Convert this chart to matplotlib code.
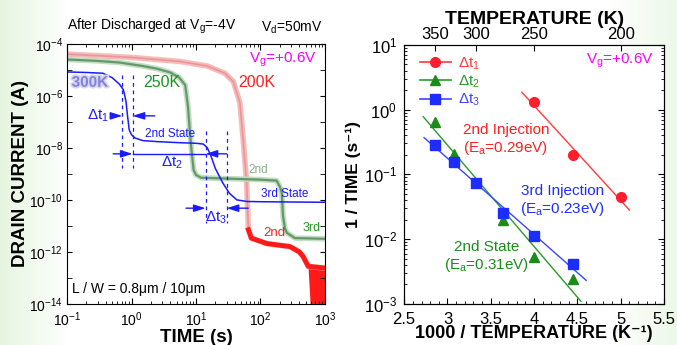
import numpy as np
import matplotlib
matplotlib.use("Agg")
import matplotlib.pyplot as plt
from matplotlib.ticker import FixedLocator, LogLocator, MultipleLocator, NullFormatter
import matplotlib.patheffects as pe

plt.rcParams['font.family'] = ['Liberation Sans', 'DejaVu Sans']
plt.rcParams['mathtext.fontset'] = 'custom'
plt.rcParams['mathtext.rm'] = 'Liberation Sans'
plt.rcParams['mathtext.it'] = 'Liberation Sans:italic'
plt.rcParams['mathtext.bf'] = 'Liberation Sans:bold'
plt.rcParams['mathtext.default'] = 'regular'

# drain current transients after discharge (time in s, current in A)
t_300 = [0.1, 0.2, 0.36, 0.5, 0.65, 0.75, 0.82, 0.87, 0.92, 1.0, 1.13, 1.5, 2.5, 5, 10,
         13, 15, 17, 20, 26, 33, 43, 62, 100, 1000]
i_300 = [8.3e-6, 7.9e-6, 7.4e-6, 5.0e-6, 2.8e-6, 1.7e-6, 6.3e-7, 1.6e-7, 5.0e-8, 3.2e-8,
         2.4e-8, 1.9e-8, 1.74e-8, 1.6e-8, 1.5e-8, 1.4e-8, 1.0e-8, 5.0e-9, 1.6e-9, 4.5e-10,
         1.8e-10, 1.0e-10, 8.7e-11, 8.5e-11, 8.1e-11]

t_250 = [0.1, 0.3, 0.66, 1.5, 2.5, 4, 5.5, 6.8, 7.5, 8.0, 8.5, 9.2, 10, 12, 30, 100, 178,
         200, 214, 224, 240, 257, 343, 1000]
i_250 = [2.5e-5, 2.2e-5, 1.9e-5, 1.4e-5, 1.1e-5, 7.9e-6, 5.0e-6, 2.6e-6, 4.0e-7, 5.0e-8,
         8.3e-9, 1.4e-9, 9.1e-10, 7.1e-10, 6.6e-10, 6.0e-10, 5.5e-10, 3.2e-10, 1.9e-10,
         2.3e-11, 7.9e-12, 5.4e-12, 3.4e-12, 3.2e-12]

t_200 = [0.1, 1, 5.6, 15, 28, 38, 48, 54, 61, 65, 72, 125, 287, 400, 460, 550, 1000]
i_200 = [4.0e-5, 3.0e-5, 2.1e-5, 1.4e-5, 7.4e-6, 3.5e-6, 5.4e-7, 2.0e-8, 4.5e-10, 7.1e-12,
         3.4e-12, 2.1e-12, 1.6e-12, 1.0e-12, 6.6e-13, 2.8e-13, 2.4e-13]
# noisy floor of the 200K trace
t_200_noise = [550, 620, 1000]
i_200_noise_hi = [2.8e-13, 2.6e-13, 2.4e-13]
i_200_noise_lo = [2.0e-13, 1e-15, 1e-15]

# marker times for the three decay intervals
dt1_bounds = [0.72, 1.04]
dt2_bounds = [1.04, 14.1]
dt3_bounds = [14.1, 29.9]

# inverse decay time versus temperature
T_dt1 = [250, 225, 200]
rate_dt1 = [1.32, 0.20, 0.044]
T_dt2 = [350, 325, 275, 250, 225]
rate_dt2 = [0.65, 0.207, 0.0198, 0.0054, 0.0024]
T_dt3 = [350, 325, 300, 275, 250, 225]
rate_dt3 = [0.28, 0.154, 0.073, 0.025, 0.011, 0.0041]
T_top_ticks = [350, 300, 250, 200]

fig = plt.figure(figsize=(6.77, 3.45), dpi=100)

# pale green border tint
bg = fig.add_axes([0, 0, 1, 1], zorder=-10)
xs = np.linspace(0, 677, 677)
w = np.clip(1 - xs / 70, 0, 1) * 0.11 + np.clip((xs - 610) / 67, 0, 1) * 0.08
grad = np.ones((1, xs.size, 3))
grad[0, :, 0] -= w * 0.9
grad[0, :, 1] -= w * 0.35
grad[0, :, 2] -= w * 1.1
bg.imshow(np.clip(grad, 0, 1), aspect='auto', extent=[0, 1, 0, 1])
bg.axis('off')

# ---- left: transients ----
ax = fig.add_axes([0.099, 0.119, 0.381, 0.754])
ax.set_xscale('log')
ax.set_yscale('log')
ax.set_xlim(0.1, 1000)
ax.set_ylim(1e-14, 1e-4)

ax.plot(t_200, i_200, color='#f6b4b4', lw=4.0, alpha=0.9, solid_capstyle='butt')
ax.plot(t_200, i_200, color='#ea8c8c', lw=1.2, alpha=0.8)
t200 = np.array(t_200)
i200 = np.array(i_200)
late = t200 >= 65
ax.plot(t200[late], i200[late], color='#ff1a1a', lw=3.5)
ax.fill_between(t_200_noise, i_200_noise_lo, i_200_noise_hi, color='#ff1a1a', lw=0)

ax.plot(t_250, i_250, color='#bcdcbc', lw=4.0, alpha=0.9)
ax.plot(t_250, i_250, color='#66976c', lw=1.6)

ax.plot(t_300, i_300, color='#1a1aff', lw=1.1)

dash = dict(color='#1a1aff', lw=0.9, ls=(0, (3, 3)))
ax.plot([dt1_bounds[0]] * 2, [6.4e-6, 1.7e-9], **dash)
ax.plot([dt1_bounds[1]] * 2, [6.4e-6, 1.7e-9], **dash)
ax.plot([dt3_bounds[0]] * 2, [4.3e-8, 1.25e-11], **dash)
ax.plot([dt3_bounds[1]] * 2, [4.3e-8, 1.25e-11], **dash)

arr = dict(arrowstyle='-|>,head_length=0.7,head_width=0.22', color='#1a1aff', lw=1.0,
           shrinkA=0, shrinkB=0)
y1, y2, y3 = 1.7e-7, 5.9e-9, 4.8e-11
ax.annotate('', xy=(dt1_bounds[0], y1), xytext=(0.49, y1), arrowprops=arr)
ax.annotate('', xy=(dt1_bounds[1], y1), xytext=(2.3, y1), arrowprops=arr)
ax.annotate('', xy=(dt2_bounds[0], y2), xytext=(0.52, y2), arrowprops=arr)
ax.annotate('', xy=(dt2_bounds[1], y2), xytext=(29.9, y2), arrowprops=arr)
ax.plot(dt2_bounds, [y2, y2], color='#1a1aff', lw=1.0)
ax.annotate('', xy=(dt3_bounds[0], y3), xytext=(7.0, y3), arrowprops=arr)
ax.annotate('', xy=(dt3_bounds[1], y3), xytext=(64.6, y3), arrowprops=arr)

blue = '#1a1aff'
ax.text(0.30, 1.7e-7, r'$\Delta$t$_1$', color=blue, fontsize=11, ha='center', va='center')
ax.text(4.2, 2.6e-9, r'$\Delta$t$_2$', color=blue, fontsize=11, ha='center', va='center')
ax.text(20.5, 2.0e-11, r'$\Delta$t$_3$', color=blue, fontsize=11, ha='center', va='center')
ax.text(3.95, 3.5e-8, '2nd State', color=blue, fontsize=8.5, ha='center', va='center')
ax.text(240, 1.66e-10, '3rd State', color=blue, fontsize=8.5, ha='center', va='center')
ax.text(0.118, 3.2e-6, '300K', color='#8282d6', fontsize=11, fontweight='bold',
        ha='left', va='center',
        path_effects=[pe.withStroke(linewidth=2.5, foreground='#d4d4f4')])
ax.text(2.94, 3.2e-6, '250K', color='#18961e', fontsize=11.5, ha='center', va='center')
ax.text(87, 3.2e-6, '200K', color='#ff2020', fontsize=11.5, ha='center', va='center')
ax.text(92, 1.4e-9, '2nd', color='#86b086', fontsize=8.5, ha='center', va='center')
ax.text(617, 8.1e-12, '3rd', color='#249624', fontsize=9, ha='center', va='center')
ax.text(166, 5.2e-12, '2nd', color='#ff2020', fontsize=9.5, ha='center', va='center')
ax.text(0.968, 0.938, 'V$_g$=+0.6V', color='#ff00ff', fontsize=11, ha='right',
        va='center', transform=ax.transAxes)
ax.text(0.02, 0.057, 'L / W = 0.8\u03bcm / 10\u03bcm', color='black', fontsize=10,
        ha='left', va='center', transform=ax.transAxes)

ax.yaxis.set_major_locator(FixedLocator([10.0 ** k for k in range(-14, -3, 2)]))
ax.yaxis.set_minor_locator(FixedLocator([10.0 ** k for k in range(-13, -4, 2)]))
ax.yaxis.set_minor_formatter(NullFormatter())
ax.xaxis.set_major_locator(LogLocator(base=10, numticks=10))
ax.xaxis.set_minor_locator(LogLocator(base=10, subs=np.arange(2, 10), numticks=10))
ax.xaxis.set_minor_formatter(NullFormatter())
ax.tick_params(which='both', direction='in', top=True, right=True, labelsize=10)
ax.tick_params(axis='y', which='both', length=3.5, pad=3)
ax.tick_params(axis='x', which='major', length=4, pad=5)
ax.tick_params(axis='x', which='minor', length=2)
ax.set_xlabel('TIME (s)', fontsize=13.5, fontweight='bold', labelpad=0)
ax.set_ylabel('DRAIN CURRENT (A)', fontsize=13.5, fontweight='bold', labelpad=0)
ax.text(0.0, 1.03, 'After Discharged at V$_g$=-4V', transform=ax.transAxes,
        fontsize=10, ha='left', va='bottom')
ax.text(0.99, 1.03, 'V$_d$=50mV', transform=ax.transAxes, fontsize=10,
        ha='right', va='bottom')

# ---- right: Arrhenius plot ----
ax2 = fig.add_axes([0.597, 0.119, 0.384, 0.751])
ax2.set_yscale('log')
ax2.set_xlim(2.5, 5.5)
ax2.set_ylim(1e-3, 10)

series = [
    (T_dt1, rate_dt1, '#ff1e2d', '#ff3b3b', 'o', 7, (3.858, 5.1), r'$\Delta$t$_1$'),
    (T_dt2, rate_dt2, '#1b8c1b', '#2a9a2a', '^', 7, (2.72, 4.54), r'$\Delta$t$_2$'),
    (T_dt3, rate_dt3, '#1e2dff', '#3c46ff', 's', 6.5, (2.73, 4.6), r'$\Delta$t$_3$'),
]
handles = []
for T, rate, mcol, lcol, mk, ms, span, lab in series:
    x = 1000.0 / np.array(T)
    slope, icpt = np.polyfit(x, np.log10(rate), 1)
    xf = np.array(span)
    ax2.plot(xf, 10 ** (slope * xf + icpt), color=lcol, lw=1.0)
    ax2.plot(x, rate, ls='none', marker=mk, ms=ms, color=mcol, mec=mcol)
    h, = ax2.plot([], [], color=lcol, lw=1.2, marker=mk, ms=ms, mfc=mcol, mec=mcol,
                  label=lab)
    handles.append(h)

leg = ax2.legend(handles=handles, loc='upper left', frameon=False, fontsize=11,
                 handlelength=2.0, handletextpad=0.5, labelspacing=0.12,
                 borderaxespad=0.3, labelcolor='linecolor', bbox_to_anchor=(0.02, 1.0))

ax2.text(3.673, 0.34, '2nd Injection\n(E$_a$=0.29eV)', color='#ff2020', fontsize=11,
         ha='center', va='center', linespacing=1.1)
ax2.text(4.323, 0.039, '3rd Injection\n(E$_a$=0.23eV)', color='#1e2dff', fontsize=11,
         ha='center', va='center', linespacing=1.1)
ax2.text(3.454, 0.0053, '2nd State\n(E$_a$=0.31eV)', color='#1b8c1b', fontsize=11,
         ha='center', va='center', linespacing=1.1)
ax2.text(0.959, 0.939, 'V$_g$=+0.6V', color='#ff00ff', fontsize=11, ha='right',
         va='center', transform=ax2.transAxes)

ax2.xaxis.set_major_locator(MultipleLocator(0.5))
ax2.xaxis.set_minor_locator(MultipleLocator(0.1))
ax2.xaxis.set_major_formatter(plt.FuncFormatter(lambda v, p: f'{v:g}'))
ax2.yaxis.set_major_locator(LogLocator(base=10, numticks=10))
ax2.yaxis.set_minor_locator(LogLocator(base=10, subs=np.arange(2, 10), numticks=10))
ax2.yaxis.set_minor_formatter(NullFormatter())
ax2.tick_params(which='both', direction='in', top=False, right=True, labelsize=12)
ax2.tick_params(axis='y', pad=5)
ax2.tick_params(axis='x', pad=5.5)
ax2.tick_params(which='major', length=4)
ax2.tick_params(which='minor', length=2)
ax2.set_xlabel('1000 / TEMPERATURE (K\u207b\u00b9)', fontsize=13, fontweight='bold',
               labelpad=-1)
ax2.set_ylabel('1 / TIME (s\u207b\u00b9)', fontsize=12.5, fontweight='bold', labelpad=2)

top = ax2.twiny()
top.set_xlim(ax2.get_xlim())
top.set_xticks([1000.0 / T for T in T_top_ticks])
top.set_xticklabels([str(T) for T in T_top_ticks])
top.tick_params(direction='in', length=4, labelsize=12, pad=2)
top.set_xlabel('TEMPERATURE (K)', fontsize=14, fontweight='bold', labelpad=2)

fig.savefig('out.png', dpi=100)
